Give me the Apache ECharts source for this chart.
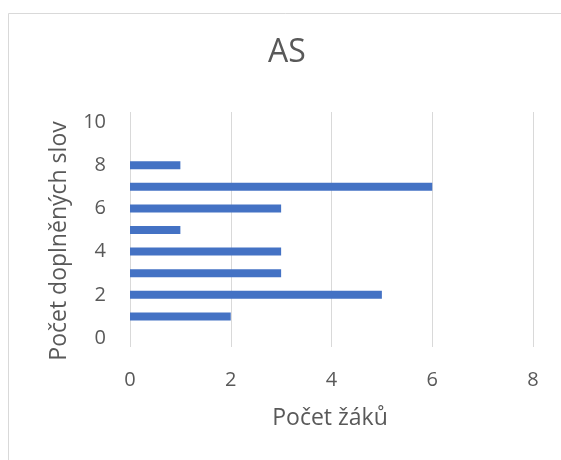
<!DOCTYPE html>
<html>
<head>
<meta charset="utf-8">
<script src="https://cdn.jsdelivr.net/npm/echarts@6/dist/echarts.min.js"></script>
<style>
html,body{margin:0;padding:0;background:#fff;}
#c{width:561px;height:460px;}
</style>
</head>
<body>
<div id="c"></div>
<script>
var chartTitle = 'AS';
var xTitle = 'Počet žáků';
var yTitle = 'Počet doplněných slov';
var yTicks = ['0','1','2','3','4','5','6','7','8','9','10'];
var wordCounts = [1, 2, 3, 4, 5, 6, 7, 8];
var pupilCounts = [2, 5, 3, 3, 1, 3, 6, 1];
var xMin = 0, xMax = 8, xStep = 2;

var FONT = '"Open Sans", "Noto Sans", sans-serif';
var TXT = '#595959';
var chart = echarts.init(document.getElementById('c'), null, {renderer: 'canvas'});

var barData = wordCounts.map(function (w, i) { return [pupilCounts[i], String(w)]; });

chart.setOption({
  animation: false,
  backgroundColor: '#fff',
  grid: [
    {left: 130, right: 28, top: 112, bottom: 113},
    {left: 130, right: 28, top: 122, bottom: 122}
  ],
  xAxis: [
    {gridIndex: 0, type: 'value', min: xMin, max: xMax, interval: xStep,
     axisLine: {show: false}, axisTick: {show: false},
     splitLine: {show: true, lineStyle: {color: '#d9d9d9', width: 1}},
     axisLabel: {color: TXT, fontSize: 20, fontFamily: FONT, margin: 23}},
    {gridIndex: 1, type: 'value', min: xMin, max: xMax, interval: xStep, show: false,
     splitLine: {show: false}}
  ],
  yAxis: [
    {gridIndex: 0, type: 'value', show: false, splitLine: {show: false}},
    {gridIndex: 1, type: 'category', data: yTicks, boundaryGap: false,
     axisLine: {show: false}, axisTick: {show: false}, splitLine: {show: false},
     axisLabel: {interval: 1, color: TXT, fontSize: 20, fontFamily: FONT, margin: 24}}
  ],
  series: [{
    type: 'bar', xAxisIndex: 1, yAxisIndex: 1,
    data: barData, barWidth: 8,
    itemStyle: {color: '#4472C4'}
  }],
  graphic: [
    {type: 'rect', shape: {x: 8.5, y: 13.5, width: 560, height: 460},
     style: {fill: 'none', stroke: '#d9d9d9', lineWidth: 1}, silent: true},
    {type: 'text', x: 287, y: 53,
     style: {text: chartTitle, fill: TXT, font: '32px ' + FONT, textAlign: 'center', textVerticalAlign: 'middle'}},
    {type: 'text', x: 330, y: 418,
     style: {text: xTitle, fill: TXT, font: '23px ' + FONT, textAlign: 'center', textVerticalAlign: 'middle'}},
    {type: 'text', x: 59, y: 241, rotation: Math.PI / 2,
     style: {text: yTitle, fill: TXT, font: '23px ' + FONT, textAlign: 'center', textVerticalAlign: 'middle'}}
  ]
});
</script>
</body>
</html>
